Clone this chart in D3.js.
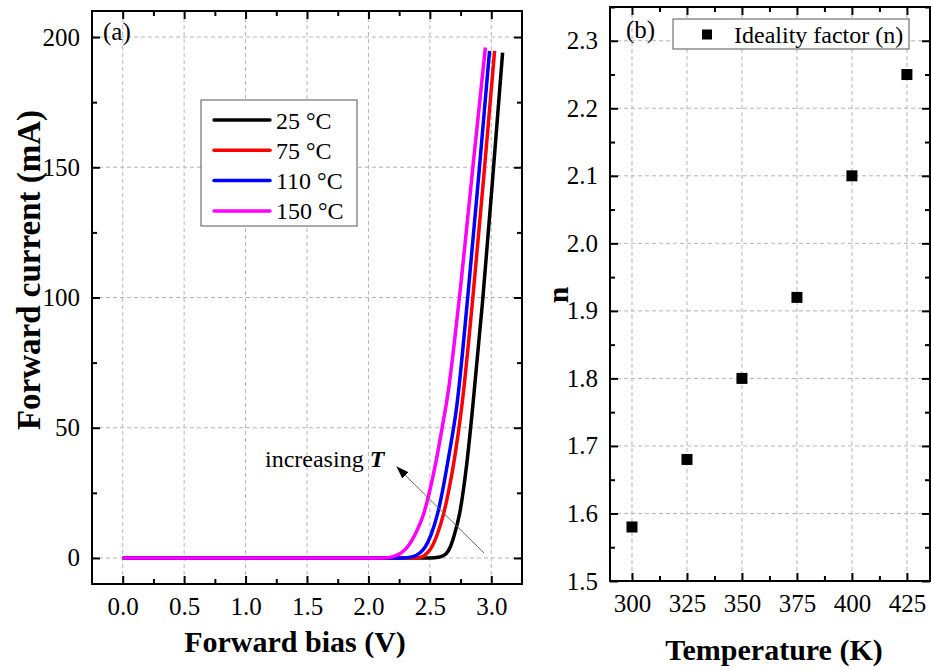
<!DOCTYPE html>
<html>
<head>
<meta charset="utf-8">
<script src="https://cdn.jsdelivr.net/npm/d3@7"></script>
<style>
  html, body { margin: 0; padding: 0; background: #fff; }
  svg { display: block; }
  text { font-family: "Liberation Serif", "Times New Roman", serif; }
</style>
</head>
<body>
<svg id="chart" width="931" height="670"></svg>
<script>
// ---------- DATA ----------
// Panel (a): forward I-V curves, [voltage (V), current (mA)]
const seriesNames = ["25 °C", "75 °C", "110 °C", "150 °C"];
const seriesColors = ["#000000", "#ff0000", "#0000ff", "#ff00ff"];
const iv25 = [[0,0],[2.50,0],[2.58,0.4],[2.63,1.5],[2.667,4.3],[2.70,9],[2.742,17],[2.80,36],[2.851,59],[2.93,99],[3.01,145],[3.092,194]];
const iv75 = [[0,0],[2.38,0],[2.44,0.5],[2.48,2],[2.517,4.3],[2.56,9],[2.612,17],[2.65,25],[2.70,38],[2.762,59],[2.85,100],[2.94,147],[3.027,194.7]];
const iv110 = [[0,0],[2.28,0],[2.36,0.5],[2.42,2],[2.463,4.3],[2.51,9],[2.563,17],[2.60,25],[2.65,38],[2.721,59],[2.81,101],[2.90,148],[2.986,194.7]];
const iv150 = [[0,0],[2.12,0],[2.20,0.5],[2.27,2],[2.33,5],[2.39,10],[2.45,17],[2.50,26],[2.55,37],[2.60,50],[2.65,64],[2.70,83],[2.75,104],[2.85,150],[2.952,196]];
const ivSeries = [iv25, iv75, iv110, iv150];
const xTicksA = [0, 0.5, 1.0, 1.5, 2.0, 2.5, 3.0];
const xMinorA = [0.25, 0.75, 1.25, 1.75, 2.25, 2.75];
const yTicksA = [0, 50, 100, 150, 200];
const yMinorA = [25, 75, 125, 175];

// Panel (b): ideality factor vs temperature
const temperatures = [300, 325, 350, 375, 400, 425];
const idealityN = [1.58, 1.68, 1.80, 1.92, 2.10, 2.25];
const xTicksB = [300, 325, 350, 375, 400, 425];
const xMinorB = [312.5, 337.5, 362.5, 387.5, 412.5];
const yTicksB = [1.5, 1.6, 1.7, 1.8, 1.9, 2.0, 2.1, 2.2, 2.3];
const yMinorB = [1.55, 1.65, 1.75, 1.85, 1.95, 2.05, 2.15, 2.25, 2.35];

// ---------- DRAW ----------
const svg = d3.select("#chart");
const TICK_FONT = 25;

function framedPanel(cfg) {
  const { left, right, top, bottom, x, y, xt, yt } = cfg;
  const g = svg.append("g");
  const grid = g.append("g").attr("stroke", "#b4b4b4").attr("stroke-width", 1).attr("stroke-dasharray", "4,3");
  xt.forEach(v => grid.append("line").attr("x1", x(v)).attr("x2", x(v)).attr("y1", top).attr("y2", bottom));
  yt.forEach(v => grid.append("line").attr("y1", y(v)).attr("y2", y(v)).attr("x1", left).attr("x2", right));
  return g;
}

function drawAxes(cfg) {
  const { left, right, top, bottom, x, y, xt, xm, yt, ym, xfmt, yfmt } = cfg;
  const g = svg.append("g");
  const styleAxis = sel => {
    sel.select(".domain").remove();
    sel.selectAll(".tick line").attr("stroke", "#000").attr("stroke-width", 2);
    sel.selectAll("text").attr("font-size", TICK_FONT).attr("fill", "#000")
      .style("font-family", "'Liberation Serif', 'Times New Roman', serif");
  };
  const ymIn = ym.filter(v => y(v) >= top && y(v) <= bottom);
  g.append("g").attr("transform", `translate(0,${bottom})`)
    .call(d3.axisBottom(x).tickValues(xt).tickFormat(xfmt).tickSize(-8).tickPadding(13)).call(styleAxis);
  g.append("g").attr("transform", `translate(0,${bottom})`)
    .call(d3.axisBottom(x).tickValues(xm).tickFormat("").tickSize(-5)).call(styleAxis);
  g.append("g").attr("transform", `translate(0,${top})`)
    .call(d3.axisTop(x).tickValues(xt).tickFormat("").tickSize(-8)).call(styleAxis);
  g.append("g").attr("transform", `translate(0,${top})`)
    .call(d3.axisTop(x).tickValues(xm).tickFormat("").tickSize(-5)).call(styleAxis);
  g.append("g").attr("transform", `translate(${left},0)`)
    .call(d3.axisLeft(y).tickValues(yt).tickFormat(yfmt).tickSize(-8).tickPadding(12)).call(styleAxis);
  g.append("g").attr("transform", `translate(${left},0)`)
    .call(d3.axisLeft(y).tickValues(ymIn).tickFormat("").tickSize(-5)).call(styleAxis);
  g.append("g").attr("transform", `translate(${right},0)`)
    .call(d3.axisRight(y).tickValues(yt).tickFormat("").tickSize(-8)).call(styleAxis);
  g.append("g").attr("transform", `translate(${right},0)`)
    .call(d3.axisRight(y).tickValues(ymIn).tickFormat("").tickSize(-5)).call(styleAxis);
  g.append("rect").attr("x", left).attr("y", top).attr("width", right - left).attr("height", bottom - top)
    .attr("fill", "none").attr("stroke", "#000").attr("stroke-width", 2);
}

// ---- Panel (a)
const A = { left: 92, right: 522, top: 11, bottom: 584 };
A.x = d3.scaleLinear().domain([-0.25, 3.25]).range([A.left, A.right]);
A.y = d3.scaleLinear().domain([-10, 210]).range([A.bottom, A.top]);
A.xt = xTicksA; A.xm = xMinorA; A.yt = yTicksA; A.ym = yMinorA;
A.xfmt = d3.format(".1f"); A.yfmt = d3.format("d");
framedPanel(A);

const lineA = d3.line().x(d => A.x(d[0])).y(d => A.y(d[1])).curve(d3.curveMonotoneX);
svg.append("clipPath").attr("id", "clipA").append("rect")
  .attr("x", A.left).attr("y", A.top).attr("width", A.right - A.left).attr("height", A.bottom - A.top);
const curvesG = svg.append("g").attr("clip-path", "url(#clipA)");
ivSeries.forEach((s, i) => {
  curvesG.append("path").datum(s).attr("d", lineA).attr("fill", "none")
    .attr("stroke", seriesColors[i]).attr("stroke-width", 3.5).attr("stroke-linejoin", "round");
});

// legend (a)
const legA = svg.append("g");
legA.append("rect").attr("x", 201).attr("y", 100).attr("width", 156).attr("height", 126)
  .attr("fill", "#fff").attr("stroke", "#555").attr("stroke-width", 1);
seriesNames.forEach((name, i) => {
  const yy = 120 + i * 30.3;
  legA.append("line").attr("x1", 214).attr("x2", 270).attr("y1", yy).attr("y2", yy)
    .attr("stroke", seriesColors[i]).attr("stroke-width", 3.5).attr("stroke-linecap", "round");
  legA.append("text").attr("x", 276).attr("y", yy + 8.5).attr("font-size", 24).text(name);
});

// annotation
const defs = svg.append("defs");
defs.append("marker").attr("id", "arrowHead").attr("viewBox", "0 0 13 9").attr("refX", 12).attr("refY", 4.5)
  .attr("markerWidth", 13).attr("markerHeight", 9).attr("markerUnits", "userSpaceOnUse").attr("orient", "auto")
  .append("path").attr("d", "M0,0 L13,4.5 L0,9 Z").attr("fill", "#000");
svg.append("line").attr("x1", 484).attr("y1", 553).attr("x2", 397).attr("y2", 467)
  .attr("stroke", "#666").attr("stroke-width", 1).attr("marker-end", "url(#arrowHead)");
const ann = svg.append("text").attr("x", 265).attr("y", 467).attr("font-size", 24);
ann.append("tspan").text("increasing ");
ann.append("tspan").attr("font-weight", "bold").attr("font-style", "italic").text("T");

svg.append("text").attr("x", 103).attr("y", 40).attr("font-size", 25).text("(a)");

drawAxes(A);

svg.append("text").attr("x", 295).attr("y", 652).attr("text-anchor", "middle")
  .attr("font-size", 30).attr("font-weight", "bold").text("Forward bias (V)");
svg.append("text").attr("transform", "translate(40,270) rotate(-90)").attr("text-anchor", "middle")
  .attr("font-size", 33).attr("font-weight", "bold").text("Forward current (mA)");

// ---- Panel (b)
const B = { left: 610, right: 930, top: 7, bottom: 581 };
B.x = d3.scaleLinear().domain([290, 435.5]).range([B.left, B.right]);
B.y = d3.scaleLinear().domain([1.5, 2.35]).range([B.bottom, B.top]);
B.xt = xTicksB; B.xm = xMinorB; B.yt = yTicksB; B.ym = yMinorB;
B.xfmt = d3.format("d"); B.yfmt = d3.format(".1f");
framedPanel(B);

const sq = 11;
svg.append("g").selectAll("rect").data(temperatures).join("rect")
  .attr("x", d => B.x(d) - sq / 2)
  .attr("y", (d, i) => B.y(idealityN[i]) - sq / 2)
  .attr("width", sq).attr("height", sq).attr("fill", "#000");

// legend (b)
const legB = svg.append("g");
legB.append("rect").attr("x", 673).attr("y", 19).attr("width", 236).attr("height", 30)
  .attr("fill", "#fff").attr("stroke", "#555").attr("stroke-width", 1);
legB.append("rect").attr("x", 702).attr("y", 29.5).attr("width", 10).attr("height", 10).attr("fill", "#000");
legB.append("text").attr("x", 734).attr("y", 43).attr("font-size", 24).text("Ideality factor (n)");

svg.append("text").attr("x", 626).attr("y", 38).attr("font-size", 25).text("(b)");

drawAxes(B);

svg.append("text").attr("x", 774).attr("y", 660).attr("text-anchor", "middle")
  .attr("font-size", 30).attr("font-weight", "bold").text("Temperature (K)");
svg.append("text").attr("transform", "translate(568,295) rotate(-90)").attr("text-anchor", "middle")
  .attr("font-size", 30).attr("font-weight", "bold").text("n");
</script>
</body>
</html>
